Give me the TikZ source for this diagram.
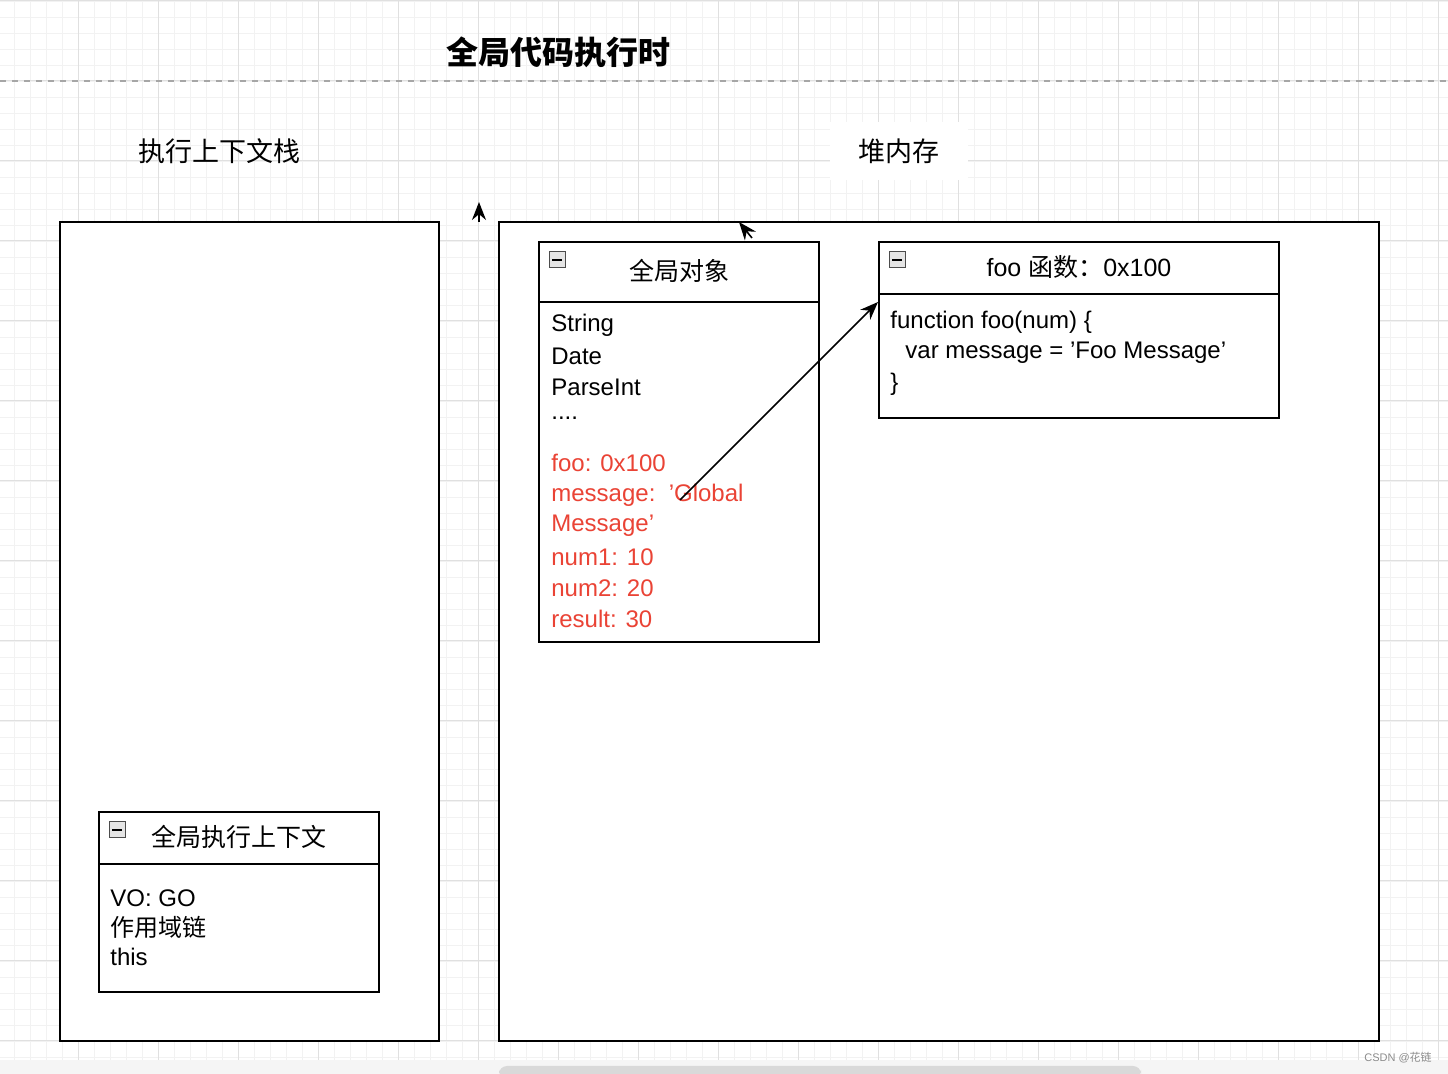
\documentclass[tikz,border=0pt]{standalone}
\usepackage{fontspec}
\setmainfont{Liberation Sans}
\newfontfamily\cjk{Noto Sans CJK SC}
\usetikzlibrary{arrows.meta}
\definecolor{redtxt}{HTML}{EA4335}
\tikzset{
  box/.style={draw=black,line width=1pt},
  txt/.style={anchor=west,inner sep=0pt,font=\fontsize{12}{14}\selectfont},
  red/.style={txt,text=redtxt},
  head/.style={inner sep=0pt,font=\fontsize{12.5}{14}\selectfont},
  icon/.style={draw=black!70,fill=black!10,minimum size=8pt,inner sep=0pt,line width=0.5pt},
  conn/.style={-{Stealth[length=9pt,width=7pt]},line width=0.8pt}
}
\newcommand{\minusicon}[2]{\node[icon] (#1) at #2 {}; \draw[line width=0.6pt] ($(#1)+(-5,0)$) -- ($(#1)+(5,0)$);}
\usetikzlibrary{calc}
\begin{document}
\begin{tikzpicture}[x=0.5pt,y=-0.5pt]
\useasboundingbox (0,0) rectangle (1448,1074);
\fill[white] (0,0) rectangle (1448,1074);
% grid
\foreach \i in {0,16,...,1440} \draw[black!5,line width=0.4pt] (\i-2,0) -- (\i-2,1060);
\foreach \j in {0,16,...,1056} \draw[black!5,line width=0.4pt] (0,\j+1) -- (1448,\j+1);
\foreach \i in {78,158,...,1440} \draw[black!12,line width=0.5pt] (\i,0) -- (\i,1060);
\foreach \j in {1,81,...,1056} \draw[black!12,line width=0.5pt] (0,\j) -- (1448,\j);
\fill[black!4] (0,1060) rectangle (1448,1074);
\fill[black!15,rounded corners=4pt] (499,1066) rectangle (1141,1078);
\draw[black!35,dashed,line width=0.6pt] (0,81) -- (1448,81);
% titles
\node[inner sep=0pt,font=\cjk\bfseries\fontsize{16}{18}\selectfont] (title) at (558,52) {全局代码执行时};
\node[inner sep=0pt,font=\cjk\fontsize{13.5}{16}\selectfont] (stack) at (219,151) {执行上下文栈};
\node[fill=white,minimum width=69pt,minimum height=29pt,font=\cjk\fontsize{13.5}{16}\selectfont] (heap) at (899,151) {堆内存};
% containers
\draw[box,fill=white] (60,222) rectangle (439,1041);
\draw[box,fill=white] (499,222) rectangle (1379,1041);
\coordinate (a1s) at (479,222); \coordinate (a1e) at (479,202);
\draw[conn] (a1s) -- (a1e);
\coordinate (a2s) at (752,238); \coordinate (a2e) at (739,222);
\draw[conn] (a2s) -- (a2e);
% global object
\draw[box,fill=white] (539,242) rectangle (819,642);
\draw[line width=1pt] (539,302) -- (819,302);
\minusicon{i1}{(557,260)}
\node[head,font=\cjk\fontsize{12.5}{14}\selectfont] (go) at (679,271) {全局对象};
\node[txt] (s1) at (551,325) {String};
\node[txt] (s2) at (551,356) {Date};
\node[txt] (s3) at (551,387) {ParseInt};
\node[txt] (s4) at (551,418) {....};
\node[red] (r1) at (551,463) {foo: 0x100};
\node[red] (r2) at (551,495) {message:\ \ 'Global};
\node[red] (r3) at (551,526) {Message'};
\node[red] (r4) at (551,557) {num1: 10};
\node[red] (r5) at (551,588) {num2: 20};
\node[red] (r6) at (551,619) {result: 30};
% foo box
\draw[box,fill=white] (879,242) rectangle (1279,418);
\draw[line width=1pt] (879,294) -- (1279,294);
\minusicon{i2}{(897,260)}
\node[head] (foot) at (1079,267) {foo {\cjk 函数：}0x100};
\node[txt] (f1) at (890,322) {function foo(num) \{};
\node[txt] (f2) at (905,353) {var message = 'Foo Message'};
\node[txt] (f3) at (890,384) {\}};
\coordinate (p1) at (680,500);
\coordinate (p2) at (878,302);
\draw[conn] (p1) -- (p2);
% global EC
\draw[box,fill=white] (99,812) rectangle (379,992);
\draw[line width=1pt] (99,864) -- (379,864);
\minusicon{i3}{(117,830)}
\node[head,font=\cjk\fontsize{12.5}{14}\selectfont] (gec) at (239,837) {全局执行上下文};
\node[txt] (g1) at (110,898) {VO: GO};
\node[txt,font=\cjk\fontsize{12}{14}\selectfont] (g2) at (110,927) {作用域链};
\node[txt] (g3) at (110,957) {this};
\node[inner sep=0pt,text=black!45,font=\fontsize{5.5}{6}\selectfont] (wm) at (1398,1058) {CSDN @{\cjk 花链}};
\end{tikzpicture}
\end{document}
